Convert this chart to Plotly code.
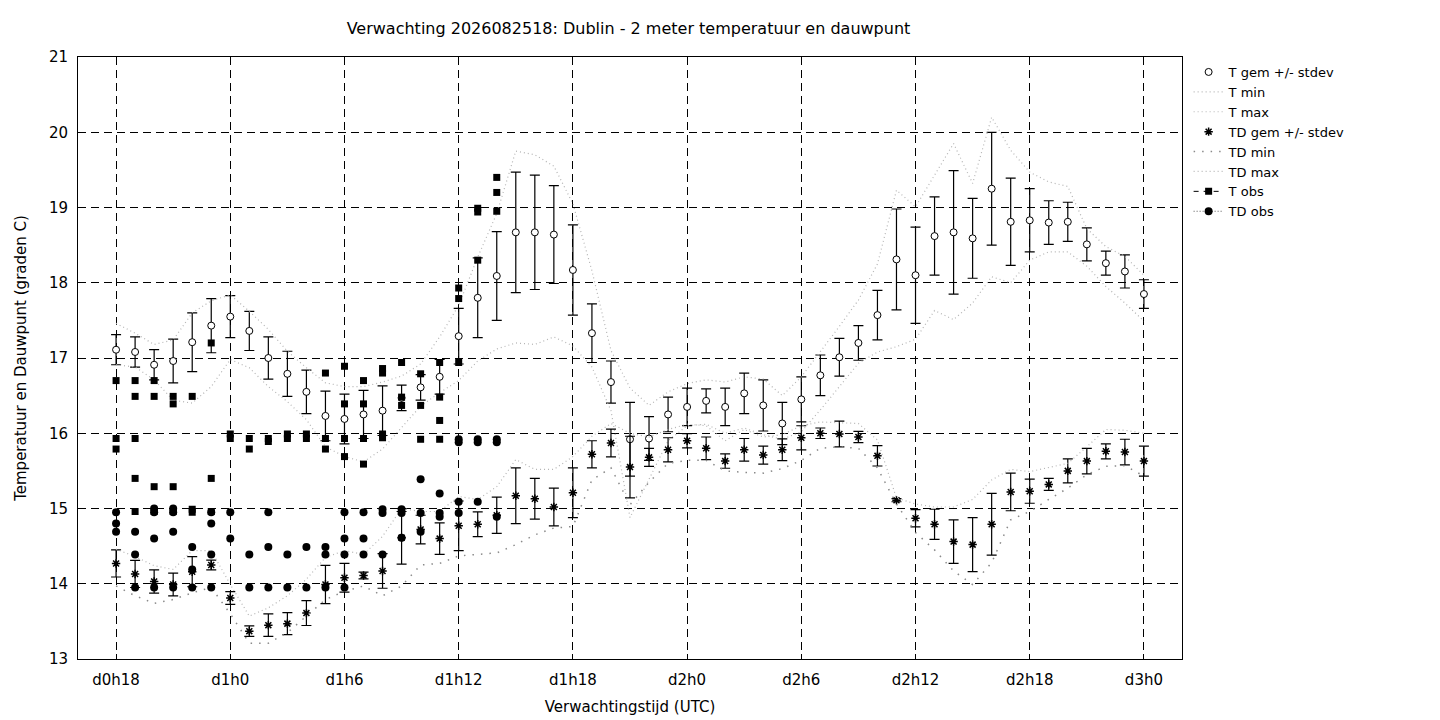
import plotly.graph_objects as go

# forecast hours (lead time, hours after d0h0)
hours = list(range(18, 73))

t_mean = [17.11, 17.08, 16.91, 16.96, 17.21, 17.43, 17.55, 17.36, 17.00, 16.79,
          16.55, 16.23, 16.19, 16.25, 16.30, 16.47, 16.61, 16.75, 17.29, 17.80,
          18.09, 18.67, 18.67, 18.64, 18.17, 17.33, 16.68, 15.92, 15.93, 16.25,
          16.35, 16.43, 16.35, 16.53, 16.37, 16.13, 16.45, 16.77, 17.01, 17.20,
          17.57, 18.31, 18.10, 18.62, 18.67, 18.59, 19.25, 18.81, 18.83, 18.80,
          18.81, 18.51, 18.26, 18.15, 17.85]
t_sd = [0.20, 0.20, 0.20, 0.29, 0.39, 0.36, 0.28, 0.26, 0.28, 0.30,
        0.29, 0.33, 0.33, 0.32, 0.33, 0.17, 0.17, 0.23, 0.37, 0.53,
        0.59, 0.80, 0.76, 0.65, 0.60, 0.39, 0.28, 0.49, 0.29, 0.23,
        0.25, 0.16, 0.25, 0.27, 0.34, 0.28, 0.30, 0.27, 0.25, 0.23,
        0.33, 0.67, 0.64, 0.52, 0.82, 0.53, 0.75, 0.58, 0.42, 0.29,
        0.26, 0.22, 0.16, 0.22, 0.19]
t_min = [16.91, 16.88, 16.71, 16.44, 16.40, 16.62, 16.98, 16.87, 16.62, 16.42,
         16.18, 15.82, 15.69, 15.62, 15.79, 16.08, 16.36, 16.54, 16.70, 16.96,
         17.12, 17.20, 17.18, 17.28, 17.16, 16.88, 16.30, 14.88, 15.38, 15.90,
         16.10, 16.12, 16.00, 16.07, 15.98, 15.92, 16.02, 16.31, 16.62, 16.93,
         17.08, 17.15, 17.25, 17.63, 17.51, 17.73, 18.08, 18.00, 18.30, 18.41,
         18.41, 18.22, 17.95, 17.73, 17.49]
t_max = [17.46, 17.33, 17.18, 17.24, 17.60, 17.76, 17.84, 17.62, 17.38, 17.09,
         16.87, 16.67, 16.62, 16.62, 16.68, 16.76, 16.92, 17.28, 17.70, 18.34,
         18.92, 19.75, 19.70, 19.55, 19.05, 18.16, 17.10, 16.60, 16.37, 16.55,
         16.66, 16.71, 16.68, 16.75, 16.72, 16.50, 16.75, 17.08, 17.42, 17.77,
         18.25, 19.23, 19.01, 19.43, 19.85, 19.32, 20.20, 19.76, 19.47, 19.34,
         19.28, 18.72, 18.48, 18.35, 18.10]

td_mean = [14.27, 14.13, 14.03, 13.99, 14.16, 14.25, 13.81, 13.37, 13.45, 13.47,
           13.61, 13.99, 14.08, 14.11, 14.17, 14.61, 14.72, 14.60, 14.77, 14.79,
           14.91, 15.17, 15.13, 15.02, 15.21, 15.72, 15.87, 15.55, 15.68, 15.78,
           15.90, 15.80, 15.63, 15.78, 15.71, 15.78, 15.94, 16.00, 15.99, 15.95,
           15.70, 15.11, 14.87, 14.79, 14.56, 14.52, 14.79, 15.22, 15.23, 15.32,
           15.50, 15.63, 15.76, 15.75, 15.63]
td_sd = [0.18, 0.18, 0.155, 0.15, 0.20, 0.065, 0.085, 0.07, 0.15, 0.145,
         0.165, 0.255, 0.19, 0.045, 0.23, 0.35, 0.19, 0.21, 0.33, 0.165,
         0.24, 0.37, 0.27, 0.25, 0.33, 0.18, 0.185, 0.41, 0.12, 0.16,
         0.095, 0.15, 0.095, 0.15, 0.12, 0.145, 0.16, 0.07, 0.17, 0.075,
         0.135, 0.02, 0.115, 0.20, 0.29, 0.36, 0.41, 0.25, 0.16, 0.08,
         0.16, 0.17, 0.10, 0.17, 0.20]
td_min = [13.97, 13.84, 13.74, 13.79, 13.88, 13.95, 13.60, 13.21, 13.21, 13.35,
          13.57, 13.79, 13.90, 13.97, 13.84, 13.97, 14.25, 14.27, 14.37, 14.39,
          14.41, 14.52, 14.65, 14.74, 14.76, 15.38, 15.54, 15.05, 15.35, 15.60,
          15.64, 15.64, 15.50, 15.48, 15.47, 15.53, 15.64, 15.80, 15.82, 15.80,
          15.54, 15.06, 14.68, 14.45, 14.17, 13.99, 14.28, 14.85, 14.96, 15.12,
          15.27, 15.45, 15.56, 15.57, 15.43]
td_max = [14.46, 14.36, 14.24, 14.19, 14.44, 14.44, 13.99, 13.57, 13.68, 13.84,
          14.06, 14.35, 14.44, 14.39, 14.63, 15.00, 14.96, 14.96, 15.16, 15.12,
          15.29, 15.65, 15.52, 15.52, 15.69, 15.96, 16.13, 16.00, 15.95, 16.05,
          16.12, 16.10, 15.90, 16.05, 15.95, 15.98, 16.10, 16.15, 16.14, 16.13,
          15.91, 15.14, 15.06, 15.02, 15.02, 15.12, 15.38, 15.52, 15.49, 15.54,
          15.60, 15.82, 16.05, 16.04, 16.00]

# observations (several stations per hour)
t_obs_hour = [18, 18, 18,
              19, 19, 19, 19, 19,
              20, 20, 20, 20,
              21, 21, 21, 21,
              22, 22, 22,
              23, 23, 23,
              24, 24, 25, 25, 26, 26, 27, 27, 28, 28,
              29, 29, 29,
              30, 30, 30, 30,
              31, 31, 31, 31,
              32, 32, 32, 32,
              33, 33, 33,
              34, 34, 34,
              35, 35, 35, 35,
              36, 36, 36,
              37, 37, 37,
              38, 38, 38]
t_obs_val = [16.70, 15.93, 15.79,
             16.70, 16.49, 15.93, 15.40, 14.96,
             16.70, 16.49, 15.29, 14.96,
             16.49, 16.39, 15.29, 14.96,
             16.49, 14.99, 14.95,
             17.20, 15.40, 14.96,
             15.99, 15.93, 15.93, 15.79, 15.93, 15.89, 15.99, 15.93, 15.99, 15.93,
             16.80, 15.93, 15.79,
             16.89, 16.39, 15.93, 15.69,
             16.70, 16.39, 15.93, 15.59,
             16.86, 16.80, 15.99, 15.94,
             16.94, 16.48, 16.37,
             16.79, 16.37, 15.92,
             16.94, 16.48, 16.17, 15.92,
             17.93, 17.79, 16.94,
             18.99, 18.94, 18.30,
             19.40, 19.20, 18.95]

td_obs_hour = [18, 18, 18,
               19, 19, 19,
               20, 20, 20, 20,
               21, 21, 21, 21,
               22, 22, 22,
               23, 23, 23, 23,
               24, 24, 25, 25,
               26, 26, 26,
               27, 27, 28, 28,
               29, 29, 29,
               30, 30, 30, 30,
               31, 31, 31,
               32, 32, 32,
               33, 33, 33,
               34, 34, 34,
               35, 35, 35,
               36, 36, 36, 36,
               37, 37, 37,
               38, 38, 38]
td_obs_val = [14.95, 14.80, 14.69,
              14.69, 14.39, 13.95,
              15.00, 14.95, 14.60, 13.95,
              15.00, 14.95, 14.69, 13.95,
              14.49, 14.19, 13.95,
              14.95, 14.80, 14.39, 13.95,
              14.95, 14.60, 14.39, 13.95,
              14.95, 14.49, 13.95,
              14.39, 13.95, 14.49, 13.95,
              14.49, 14.39, 13.95,
              14.95, 14.60, 14.39, 13.95,
              14.95, 14.60, 14.39,
              14.99, 14.94, 14.39,
              14.99, 14.94, 14.61,
              15.39, 14.94, 14.69,
              15.20, 14.94, 14.89,
              15.92, 15.88, 15.09, 14.94,
              15.92, 15.88, 15.09,
              15.92, 15.88, 14.89]

tick_hours = [18, 24, 30, 36, 42, 48, 54, 60, 66, 72]
tick_labels = ['d0h18', 'd1h0', 'd1h6', 'd1h12', 'd1h18',
               'd2h0', 'd2h6', 'd2h12', 'd2h18', 'd3h0']


def split_points(xs, ys):
    # None between points so the legend shows a line but no line is drawn
    px, py = [], []
    for x, y in zip(xs, ys):
        px += [x, None]
        py += [y, None]
    return px, py


FONT = "DejaVu Sans"
LIGHT = "#b4b4b4"

fig = go.Figure()

fig.add_trace(go.Scatter(
    x=hours, y=t_mean, mode="markers", name="T gem +/- stdev",
    marker=dict(symbol="circle", size=7, color="white",
                line=dict(color="black", width=1)),
    error_y=dict(type="data", array=t_sd, visible=True,
                 color="black", thickness=1.2, width=5)))
fig.add_trace(go.Scatter(
    x=hours, y=t_min, mode="lines", name="T min",
    line=dict(color=LIGHT, width=1.2, dash="1px,3px")))
fig.add_trace(go.Scatter(
    x=hours, y=t_max, mode="lines", name="T max",
    line=dict(color=LIGHT, width=1.2, dash="1px,3px")))
fig.add_trace(go.Scatter(
    x=hours, y=td_mean, mode="markers", name="TD gem +/- stdev",
    marker=dict(symbol="asterisk-open", size=7, color="black",
                line=dict(color="black", width=1.5)),
    error_y=dict(type="data", array=td_sd, visible=True,
                 color="black", thickness=1.2, width=5)))
fig.add_trace(go.Scatter(
    x=hours, y=td_min, mode="lines", name="TD min",
    line=dict(color="#8a8a8a", width=1.5, dash="1.5px,7px")))
fig.add_trace(go.Scatter(
    x=hours, y=td_max, mode="lines", name="TD max",
    line=dict(color=LIGHT, width=1.2, dash="1px,3px")))

ox, oy = split_points(t_obs_hour, t_obs_val)
fig.add_trace(go.Scatter(
    x=ox, y=oy, mode="lines+markers", name="T obs", connectgaps=False,
    line=dict(color="black", width=1, dash="5px,5px"),
    marker=dict(symbol="square", size=7, color="black")))
ox, oy = split_points(td_obs_hour, td_obs_val)
fig.add_trace(go.Scatter(
    x=ox, y=oy, mode="lines+markers", name="TD obs", connectgaps=False,
    line=dict(color="#555555", width=1, dash="1px,2px"),
    marker=dict(symbol="circle", size=8, color="black")))

axis_style = dict(
    showline=True, linecolor="black", linewidth=1, mirror=True,
    showgrid=True, gridcolor="black", gridwidth=1, griddash="8px,5px",
    zeroline=False, ticks="inside", ticklen=5, tickcolor="black",
    tickfont=dict(family=FONT, size=15, color="black"),
)

fig.update_xaxes(
    range=[16, 74], tickvals=tick_hours, ticktext=tick_labels,
    ticklabelstandoff=7,
    title=dict(text="Verwachtingstijd (UTC)",
               font=dict(family=FONT, size=15, color="black"), standoff=13),
    **axis_style)
fig.update_yaxes(
    range=[13, 21], dtick=1, ticklabelstandoff=6,
    title=dict(text="Temperatuur en Dauwpunt (graden C)",
               font=dict(family=FONT, size=15, color="black"), standoff=18),
    **axis_style)

# the page body adds an 8px offset, margins are set to compensate
fig.update_layout(
    width=1440, height=720,
    margin=dict(l=67, r=266, t=49, b=69),
    paper_bgcolor="white", plot_bgcolor="white",
    font=dict(family=FONT, size=15, color="black"),
    title=dict(text="Verwachting 2026082518: Dublin - 2 meter temperatuur en dauwpunt",
               x=(67 + 1174) / 2 / 1440, xanchor="center", y=0.971, yanchor="middle",
               font=dict(family=FONT, size=16, color="black")),
    legend=dict(x=1.006, y=1.0, xanchor="left", yanchor="top",
                font=dict(family=FONT, size=13, color="black"),
                bgcolor="rgba(0,0,0,0)", tracegroupgap=0),
    showlegend=True,
)

fig.write_html("out.html")
